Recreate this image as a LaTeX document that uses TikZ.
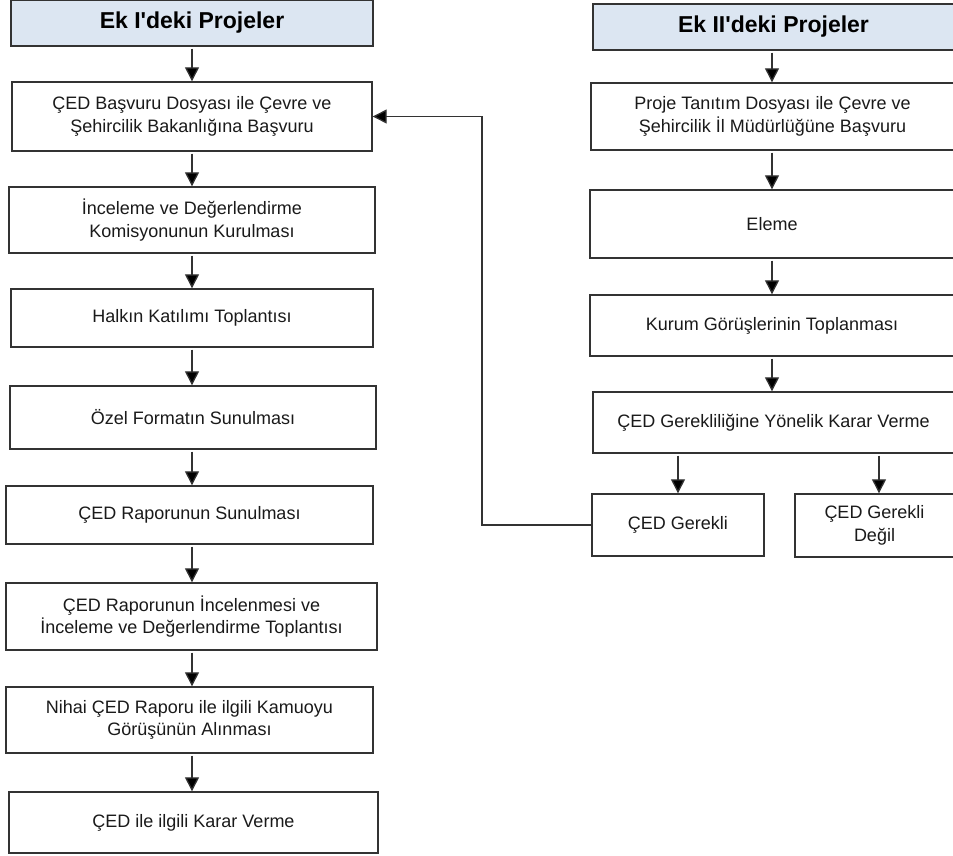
\documentclass[tikz,border=0pt]{standalone}
\usepackage{fontspec}
\setmainfont{Liberation Sans}
\usetikzlibrary{arrows.meta}
\definecolor{hdrblue}{HTML}{DCE6F2}
\definecolor{edge}{HTML}{333333}
\definecolor{txt}{HTML}{1A1A1A}
\tikzset{
  box/.style={draw=edge, line width=1.4pt, fill=white, inner sep=0pt, align=center,
    text=txt, font=\fontsize{18}{22.5}\selectfont},
  hdr/.style={box, fill=hdrblue, font=\fontsize{23}{26}\selectfont\bfseries, text=black},
  arr/.style={draw=edge, line width=1.3pt, -{Triangle[width=14pt,length=14pt,fill=black]}, shorten <=2pt},
  link/.style={draw=edge, line width=1.3pt, -{Triangle[width=14pt,length=14pt,fill=black]}}
}
\begin{document}
\begin{tikzpicture}[x=1pt,y=-1pt]
\useasboundingbox (0,0) rectangle (953,856);
\clip (0,0) rectangle (953,856);
% left column
\node[hdr, minimum width=362pt, minimum height=46pt] (h1) at (192,23) {Ek I\textquotesingle deki Projeler};
\node[box, minimum width=360pt, minimum height=69pt] (b1) at (192,116.5) {ÇED Başvuru Dosyası ile Çevre ve\\Şehircilik Bakanlığına Başvuru};
\node[box, minimum width=366pt, minimum height=66pt] (b2) at (192,220) {İnceleme ve Değerlendirme\\Komisyonunun Kurulması};
\node[box, minimum width=362pt, minimum height=58pt] (b3) at (192,318) {Halkın Katılımı Toplantısı};
\node[box, minimum width=366pt, minimum height=63pt] (b4) at (193,417.5) {Özel Formatın Sunulması};
\node[box, minimum width=367pt, minimum height=58pt] (b5) at (189.5,515) {ÇED Raporunun Sunulması};
\node[box, minimum width=371pt, minimum height=67pt] (b6) at (191.5,616.5) {ÇED Raporunun İncelenmesi ve\\İnceleme ve Değerlendirme Toplantısı};
\node[box, minimum width=367pt, minimum height=66pt] (b7) at (189.5,720) {Nihai ÇED Raporu ile ilgili Kamuoyu\\Görüşünün Alınması};
\node[box, minimum width=369pt, minimum height=61pt] (b8) at (193.5,822.5) {ÇED ile ilgili Karar Verme};
% right column
\node[hdr, minimum width=361pt, minimum height=46pt] (h2) at (773.5,27) {Ek II\textquotesingle deki Projeler};
\node[box, minimum width=363pt, minimum height=67pt] (r1) at (772.5,116.5) {Proje Tanıtım Dosyası ile Çevre ve\\Şehircilik İl Müdürlüğüne Başvuru};
\node[box, minimum width=364pt, minimum height=68pt] (r2) at (772,224) {Eleme};
\node[box, minimum width=364pt, minimum height=61pt] (r3) at (772,325.5) {Kurum Görüşlerinin Toplanması};
\node[box, minimum width=361pt, minimum height=61pt] (r4) at (773.5,422.5) {ÇED Gerekliliğine Yönelik Karar Verme};
\node[box, minimum width=172pt, minimum height=62pt] (r5) at (678,525) {ÇED Gerekli};
\node[box, minimum width=159pt, minimum height=63pt] (r6) at (874.5,525.5) {ÇED Gerekli\\Değil};
% left arrows
\foreach \a/\b in {h1/b1,b1/b2,b2/b3,b3/b4,b4/b5,b5/b6,b6/b7,b7/b8}
  \draw[arr] (\a.south -| 192,0) -- (\b.north -| 192,0);
% right arrows
\foreach \a/\b in {h2/r1,r1/r2,r2/r3,r3/r4}
  \draw[arr] (\a.south -| 772,0) -- (\b.north -| 772,0);
\draw[arr] (r5.north |- r4.south) -- (r5.north);
\draw[arr] (r4.south -| 879,0) -- (r6.north -| 879,0);
% feedback
\coordinate (k1) at (482,525);
\coordinate (k2) at (482,116.5);
\draw[link] (r5.west) -- (k1) -- (k2) -- (b1.east);
\end{tikzpicture}
\end{document}
